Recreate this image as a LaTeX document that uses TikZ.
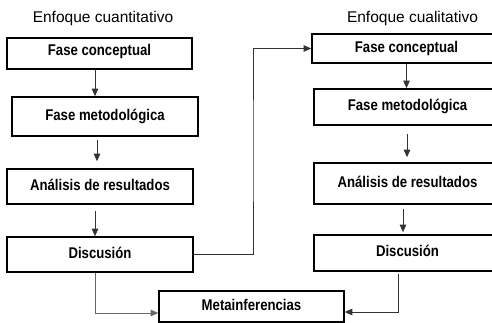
\documentclass[tikz,border=0pt]{standalone}
\usepackage{fontspec}
\setmainfont{Liberation Sans}
\newfontfamily\boxfont[FakeStretch=0.85]{Liberation Sans}
\usetikzlibrary{arrows.meta,calc}

\begin{document}
\begin{tikzpicture}[
    x = 1pt, y = -1pt,
    box/.style = {draw, line width=1.6pt, inner sep=0pt,
        font=\boxfont\bfseries\fontsize{15.5}{17}\selectfont,
        text height=10.5pt, text depth=3pt},
    conn/.style = {line width=0.8pt, draw=black!80,
        -{Triangle[length=7.5pt,width=6.5pt]}},
    head/.style = {font=\fontsize{15.5}{18}\selectfont}]

\clip (0,0) rectangle (492,323);

% headings
\node[head] (hq) at (103,18) {Enfoque cuantitativo};
\node[head] (hc) at (412.5,18) {Enfoque cualitativo};

% left column
\node[box, minimum width=185pt, minimum height=31pt, text depth=7pt] (L1) at (99.5,53.5) {Fase conceptual};
\node[box, minimum width=186pt, minimum height=39pt] (L2) at (105,116.5) {Fase metodológica};
\node[box, minimum width=186pt, minimum height=35pt] (L3) at (100,186.5) {Análisis de resultados};
\node[box, minimum width=186pt, minimum height=35pt] (L4) at (100,254.5) {Discusión};

% right column
\node[box, minimum width=189pt, minimum height=29pt] (R1) at (406.5,48.5) {Fase conceptual};
\node[box, minimum width=187pt, minimum height=36pt] (R2) at (407.5,107) {Fase metodológica};
\node[box, minimum width=187pt, minimum height=41pt] (R3) at (407.5,183.5) {Análisis de resultados};
\node[box, minimum width=187pt, minimum height=36pt] (R4) at (407.5,253) {Discusión};

\node[box, minimum width=185pt, minimum height=31pt] (M) at (251.5,306.5) {Metainferencias};

\coordinate (fb) at (253,150);

\draw[conn] ($(L1.south)+(-4.5,0)$) -- ($(L1.south |- L2.north)+(-4.5,0)$);
\draw[conn] ($(L3.north |- L2.south)+(-3,3)$) -- ($(L3.north)+(-3,-7)$);
\draw[conn] ($(L3.south)+(-5,6)$) -- ($(L3.south |- L4.north)+(-5,0)$);

\draw[conn] (R1.south) -- (R1.south |- R2.north);
\draw[conn] ($(R2.south)+(-0.5,8)$) -- ($(R2.south |- R3.north)+(-0.5,-5)$);
\draw[conn] ($(R3.south)+(-4.5,4)$) -- ($(R3.south |- R4.north)+(-4.5,-2)$);

\draw[conn] (L4.east) -| (fb) |- (R1.west);
\draw[conn, draw=black!60] ($(L4.south)+(-5,0)$) |- ($(M.west)+(0,6.5)$);
\draw[conn] ($(R4.south)+(-9.5,2)$) |- ($(M.east)+(0,5.5)$);
\end{tikzpicture}
\end{document}
